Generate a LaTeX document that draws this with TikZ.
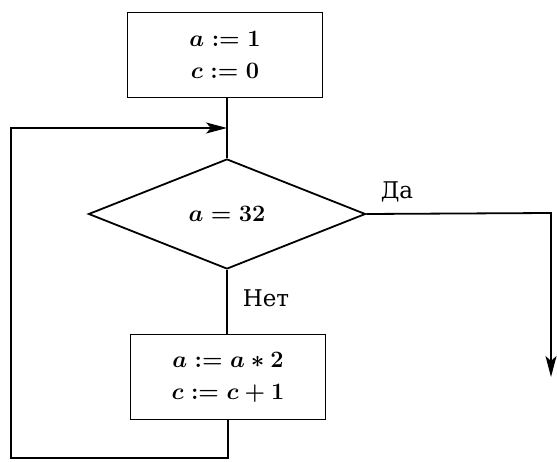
\RequirePackage{fix-cm}
\documentclass[tikz,border=0pt]{standalone}
\usepackage{fontspec}
\newfontfamily\labelfont{DejaVu Serif}
\usetikzlibrary{shapes.geometric,arrows.meta}
\begin{document}
\begin{tikzpicture}[x=1pt,y=-1pt,
  line width=1.8pt,
  every node/.style={font=\fontsize{23.5}{32}\selectfont\boldmath},
  procbox/.style={draw, rectangle, minimum width=195pt, minimum height=85pt, align=center, inner sep=0pt},
  decbox/.style={draw, diamond, minimum width=277pt, minimum height=110pt, inner sep=0pt},
  lbl/.style={font=\labelfont\fontsize{23}{26}\selectfont, inner sep=0pt},
  arr/.style={-{Stealth[length=21pt,width=11pt,inset=5pt]}}
]
\useasboundingbox (0,0) rectangle (557,462);
\node[procbox] (b1) at (225,55) {$a\mathrel{:=}1$\\$c\mathrel{:=}0$};
\node[decbox] (d) at (227,214) {$a=32$};
\node[procbox] (b2) at (228,377) {$a\mathrel{:=}a*2$\\$c\mathrel{:=}c+1$};
\node[lbl] (da) at (397,192) {Да};
\node[lbl] (net) at (266,298) {Нет};
\coordinate (jn) at (227,128);
\coordinate (lt) at (11,128);
\coordinate (lb) at (11,458);
\coordinate (rc) at (551,213);
\coordinate (re) at (551,377);
\draw (d.north) -- (d.north |- b1.south);
\draw (d.south) -- (d.south |- b2.north);
\draw (b2.south) -- (b2.south |- lb) -- (lb) -- (lt) [arr] -- (jn);
\draw[arr] (d.east) -- (rc) -- (re);
\end{tikzpicture}
\end{document}
